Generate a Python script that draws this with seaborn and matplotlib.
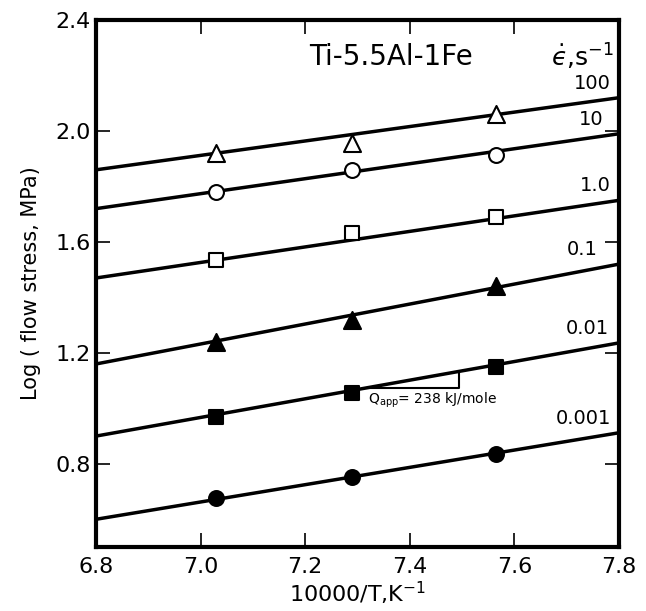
import matplotlib
matplotlib.use("Agg")
import matplotlib.pyplot as plt
import numpy as np
import pandas as pd
import seaborn as sns

# strain rates, s^-1 (one line per rate)
rate_labels = ["100", "10", "1.0", "0.1", "0.01", "0.001"]
inv_temp = [7.03, 7.29, 7.565]  # 10000/T, K^-1

# log(flow stress, MPa) at the three temperatures
stress_100 = [1.92, 1.955, 2.06]
stress_10 = [1.78, 1.86, 1.915]
stress_1 = [1.535, 1.632, 1.69]
stress_01 = [1.24, 1.32, 1.44]
stress_001 = [0.97, 1.055, 1.148]
stress_0001 = [0.675, 0.752, 0.837]

# fitted lines, value at x = 6.8 and x = 7.8
line_x = [6.8, 7.8]
line_start = [1.86, 1.72, 1.47, 1.16, 0.90, 0.60]
line_end = [2.12, 1.99, 1.75, 1.52, 1.236, 0.912]

markers = ["^", "o", "s", "^", "s", "o"]
filled = [False, False, False, True, True, True]

stress = [stress_100, stress_10, stress_1, stress_01, stress_001, stress_0001]

pts = pd.DataFrame(
    [(r, x, y) for r, ys in zip(rate_labels, stress) for x, y in zip(inv_temp, ys)],
    columns=["rate", "x", "y"],
)
fits = pd.DataFrame(
    [(r, x, y) for r, a, b in zip(rate_labels, line_start, line_end)
     for x, y in zip(line_x, [a, b])],
    columns=["rate", "x", "y"],
)

sns.set_style("ticks")
plt.rcParams["font.family"] = ["DejaVu Sans"]
for k in ["text.color", "axes.labelcolor", "xtick.color", "ytick.color",
          "axes.edgecolor"]:
    plt.rcParams[k] = "black"

fig = plt.figure(figsize=(6.46, 6.11), dpi=100)
ax = fig.add_axes([0.1486, 0.1047, 0.8096, 0.8625])

for i, r in enumerate(rate_labels):
    sub = fits[fits["rate"] == r]
    sns.lineplot(data=sub, x="x", y="y", ax=ax, color="black", lw=2.5,
                 legend=False)

# right edge of each rate label
label_right = [7.785, 7.77, 7.785, 7.76, 7.78, 7.785]
for i, r in enumerate(rate_labels):
    sub = pts[pts["rate"] == r]
    sns.scatterplot(data=sub, x="x", y="y", ax=ax, marker=markers[i],
                    s=150 if markers[i] == "^" else 115,
                    facecolor="black" if filled[i] else "white",
                    edgecolor="black", linewidth=1.5, zorder=3, legend=False)
    ax.text(label_right[i], line_end[i] + 0.018, r,
            ha="right", va="bottom", fontsize=14)

# activation energy triangle on the 0.01 line
ax.plot([7.316, 7.495, 7.495], [1.074, 1.074, 1.13], color="black", lw=1.5)
ax.text(7.32, 1.062, r"Q$_{\rm app}$= 238 kJ/mole", ha="left", va="top",
        fontsize=10)

ax.text(7.365, 2.267, "Ti-5.5Al-1Fe", ha="center", va="center", fontsize=20)
ax.text(7.79, 2.267, "$\\dot{\u03f5}$,s$^{-1}$", ha="right", va="center",
        fontsize=18)

ax.set_xlim(6.8, 7.8)
ax.set_ylim(0.5, 2.4)
ax.set_xticks([6.8, 7.0, 7.2, 7.4, 7.6, 7.8])
ax.set_xticklabels(["6.8", "7.0", "7.2", "7.4", "7.6", "7.8"])
ax.set_yticks([0.8, 1.2, 1.6, 2.0, 2.4])
ax.set_yticklabels(["0.8", "1.2", "1.6", "2.0", "2.4"])
ax.tick_params(direction="in", length=10, width=1.2, labelsize=16,
               top=True, right=True)
ax.tick_params(axis="x", pad=7)
ax.tick_params(axis="y", pad=4)
for s in ax.spines.values():
    s.set_linewidth(3)
    s.set_visible(True)
ax.set_xlabel(r"10000/T,K$^{-1}$", fontsize=16, labelpad=2)
ax.set_ylabel("Log ( flow stress, MPa)", fontsize=15, labelpad=10)

fig.savefig("out.png", dpi=100)
